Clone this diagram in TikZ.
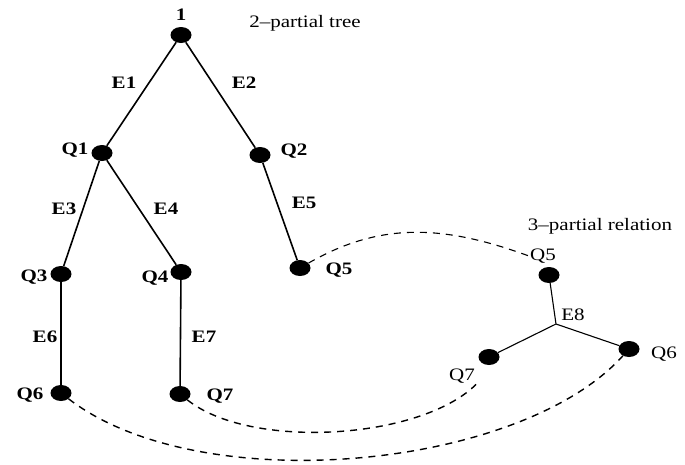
\documentclass[tikz,border=0pt]{standalone}
\usepackage{fontspec}
\setmainfont[FakeStretch=1.2]{Liberation Serif}
\usetikzlibrary{calc,positioning,shapes.geometric}

\tikzset{
  dot/.style={ellipse, fill=black, inner sep=0pt, minimum width=21pt, minimum height=16pt},
  lbl/.style={inner sep=1pt, font=\fontsize{17.5}{19}\selectfont\bfseries},
  rlbl/.style={inner sep=1pt, font=\fontsize{17.5}{19}\selectfont},
  edge/.style={line width=1.6pt},
  link/.style={line width=1.4pt, dash pattern=on 7pt off 6pt},
}

\begin{document}
\begin{tikzpicture}[x=1pt,y=-1pt]
    \useasboundingbox (0,0) rectangle (685,464);
    % the tree
    \node[dot] (R)  at (181,35)  {};
    \node[dot] (Q1) at (102,153) {};
    \node[dot] (Q2) at (260,155) {};
    \node[dot] (Q3) at (61,274)  {};
    \node[dot] (Q4) at (181,272) {};
    \node[dot] (Q5) at (300,268) {};
    \node[dot] (Q6) at (61,393)  {};
    \node[dot] (Q7) at (180,394) {};
    \draw[edge] (R) -- (Q1);
    \draw[edge] (R) -- (Q2);
    \draw[edge] (Q1) -- (Q3);
    \draw[edge] (Q1) -- (Q4);
    \draw[edge] (Q2) -- (Q5);
    \draw[edge] (Q3) -- (Q6);
    \draw[edge] (Q4) -- (Q7);
    \node[lbl] at (181,15) {1};
    \node[lbl] at (75,150)  {Q1};
    \node[lbl] at (294,151) {Q2};
    \node[lbl] at (34,277)  {Q3};
    \node[lbl] at (155,278) {Q4};
    \node[lbl] at (339,270) {Q5};
    \node[lbl] at (30,395)  {Q6};
    \node[lbl] at (220,396) {Q7};
    \node[lbl] at (124,83)  {E1};
    \node[lbl] at (244,83)  {E2};
    \node[lbl] at (64,209)  {E3};
    \node[lbl] at (166,209) {E4};
    \node[lbl] at (304,203) {E5};
    \node[lbl] at (45,337)  {E6};
    \node[lbl] at (204,337) {E7};
    \node[rlbl] at (305,23) {2--partial tree};
    % the relation
    \coordinate (J) at (556,324);
    \node[dot] (S5) at (549,275) {};
    \node[dot] (S7) at (489,357) {};
    \node[dot] (S6) at (629,349) {};
    \draw[line width=1.1pt] (S5) -- (J) -- (S7) (J) -- (S6);
    \node[rlbl] (L5) at (543,256) {Q5};
    \node[rlbl] (L7) at (462,376) {Q7};
    \node[rlbl] at (664,354) {Q6};
    \node[rlbl] at (573,315) {E8};
    \node[rlbl] at (600,226) {3--partial relation};
    % links between both
    \draw[link, line width=1.1pt] (Q5) to[out=30,in=160] (L5.west);
    \draw[link] (Q7) .. controls (250,450) and (420,440) .. (L7.south east);
    \draw[link] (Q6) .. controls (200,500) and (520,470) .. (S6);
\end{tikzpicture}
\end{document}
